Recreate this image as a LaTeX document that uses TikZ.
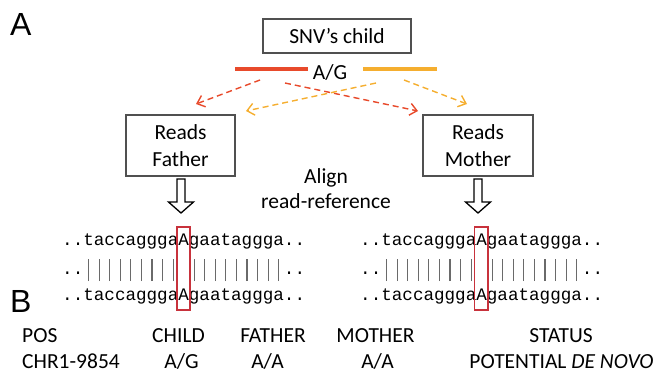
\documentclass[tikz,border=0pt]{standalone}
\usepackage{fontspec}
\setmainfont{Carlito}
\newfontfamily\labelfont{Liberation Sans}
\newfontfamily\seqfont{Liberation Mono}
\usetikzlibrary{arrows.meta}
\definecolor{snvred}{HTML}{E84A2B}
\definecolor{snvorange}{HTML}{F5AE2F}
\definecolor{boxgray}{HTML}{505050}
\definecolor{mark}{HTML}{C8323C}
\definecolor{bargray}{HTML}{6A6A6A}
% one match bar, as wide as a mono character
\newcommand{\seqbar}{\makebox[0.6em]{\color{bargray}\rule[-7pt]{1.1pt}{22pt}}}
\newcommand{\seqbars}{\seqbar\seqbar\seqbar\seqbar\seqbar\seqbar\seqbar\seqbar\seqbar}
\tikzset{
  box/.style={draw=boxgray, line width=1.3pt, inner sep=0pt, align=center,
    font=\fontsize{21.5}{27}\selectfont},
  txt/.style={inner sep=0pt, anchor=base, font=\fontsize{21.5}{27}\selectfont},
  panel/.style={inner sep=0pt, anchor=base west, font=\labelfont\fontsize{32}{36}\selectfont},
  seq/.style={inner sep=0pt, anchor=base west, font=\seqfont\fontsize{17.6}{20}\selectfont},
  allele/.style={line width=4pt},
  readarrow/.style={dashed, dash pattern=on 6pt off 4pt, line width=1.4pt,
    -{Straight Barb[length=7pt, width=12pt, line width=1.4pt]}},
  hollow/.style={draw=black, fill=white, line width=1.3pt},
  snvbox/.style={draw=mark, line width=1.4pt}
}
\begin{document}
\begin{tikzpicture}[x=1pt, y=-1pt]
\useasboundingbox (0,0) rectangle (663,373);

% panel letters
\node[panel] (labA) at (10,35) {A};
\node[panel] (labB) at (10,312) {B};

% child SNV and the two alleles
\node[box, minimum width=148pt, minimum height=34pt] (child) at (337,36) {SNV’s child};
\node[txt] (ag) at (330,79) {A/G};
\coordinate (r1) at (235,69); \coordinate (r2) at (308,69);
\coordinate (o1) at (363,69); \coordinate (o2) at (437,69);
\draw[allele, snvred] (r1) -- (r2);
\draw[allele, snvorange] (o1) -- (o2);

% parents' reads
\node[box, minimum width=109pt, minimum height=61pt] (father) at (180.5,145.5) {Reads\\Father};
\node[box, minimum width=110pt, minimum height=61pt] (mother) at (478,145.5) {Reads\\Mother};

% allele lookups in both parents
\coordinate (ra) at (260,80);  \coordinate (rat) at (196,104);
\coordinate (rb) at (285,83);  \coordinate (rbt) at (418,111);
\coordinate (oa) at (376,83);  \coordinate (oat) at (246,111);
\coordinate (ob) at (404,80);  \coordinate (obt) at (467,104);
\draw[readarrow, snvred] (ra) -- (rat);
\draw[readarrow, snvred] (rb) -- (rbt);
\draw[readarrow, snvorange] (oa) -- (oat);
\draw[readarrow, snvorange] (ob) -- (obt);

\node[txt] (align1) at (326,183) {Align};
\node[txt] (align2) at (326,208) {read-reference};

% hollow block arrows down to the alignments
\foreach \cx/\nm in {181/fa, 478/ma} {
  \draw[hollow] (\cx-4,179) -- (\cx+4,179) -- (\cx+4,202) -- (\cx+12.5,202)
    -- (\cx,213) -- (\cx-12.5,202) -- (\cx-4,202) -- cycle;
}

% alignments
\foreach \sx/\nm in {62/L, 360/R} {
  \node[seq] (top\nm) at (\sx,245) {..taccagggaAgaataggga..};
  \node[seq] (mid\nm) at (\sx,274) {..\seqbars\makebox[0.6em]{}\seqbars..};
  \node[seq] (bot\nm) at (\sx,300) {..taccagggaAgaataggga..};
}
\draw[snvbox] (177,227) rectangle (190,310);
\draw[snvbox] (474.5,227) rectangle (488,310);

% summary table
\node[txt, anchor=base west] (hpos) at (22,342) {POS};
\node[txt] (hchild) at (178.5,342) {CHILD};
\node[txt] (hfather) at (273,342) {FATHER};
\node[txt] (hmother) at (375.5,342) {MOTHER};
\node[txt] (hstatus) at (561,342) {STATUS};
\node[txt, anchor=base west] (vpos) at (22,368) {CHR1-9854};
\node[txt] (vchild) at (181.5,368) {A/G};
\node[txt] (vfather) at (267.5,368) {A/A};
\node[txt] (vmother) at (377.5,368) {A/A};
\node[txt] (vstatus) at (561.5,368) {POTENTIAL \textit{DE NOVO}};
\end{tikzpicture}
\end{document}
